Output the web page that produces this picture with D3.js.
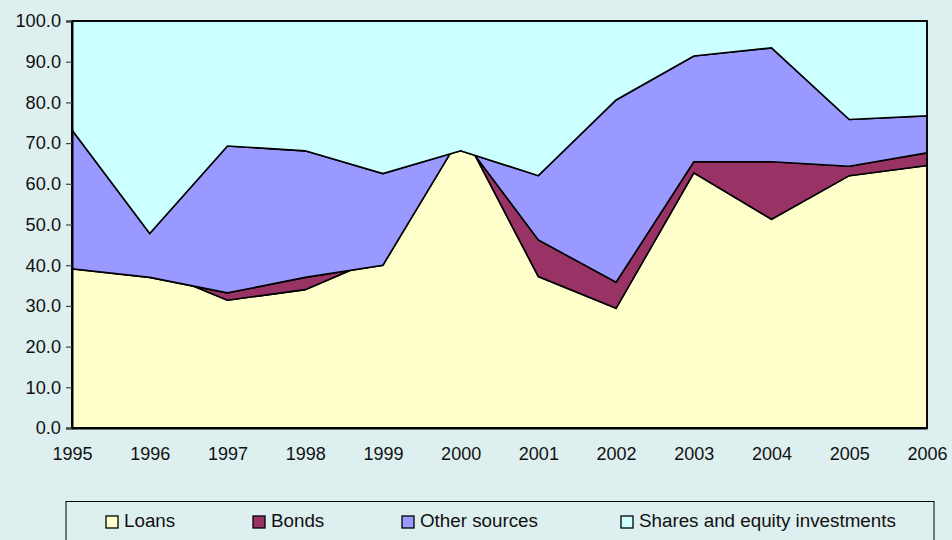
<!DOCTYPE html>
<html>
<head>
<meta charset="utf-8">
<script src="https://cdn.jsdelivr.net/npm/d3@7/dist/d3.min.js"></script>
<style>
  html, body { margin: 0; padding: 0; background: #DDEFEF; }
  svg { display: block; }
  text { font-family: "Liberation Sans", Arial, sans-serif; fill: #111; }
</style>
</head>
<body>
<svg id="chart" width="952" height="540"></svg>
<script>
// ---- data ----
const years = ["1995","1996","1997","1998","1999","2000","2001","2002","2003","2004","2005","2006"];
const loans  = [39.1, 39.3, 31.4, 34.0, 42.2, 73.8, 37.2, 29.4, 62.7, 51.3, 62.0, 64.5];
const bonds  = [ 0.0, -2.3,  1.8,  3.0, -2.2, -2.1,  9.0,  6.4,  2.7, 14.1,  2.3,  3.1];
const other  = [34.1, 10.8, 36.1, 31.1, 22.5, -3.6, 15.8, 44.8, 26.0, 28.0, 11.5,  9.1];
const shares = [26.8, 52.2, 30.7, 31.9, 37.5, 31.9, 38.0, 19.4,  8.6,  6.6, 24.2, 23.3];
const seriesNames = ["Loans", "Bonds", "Other sources", "Shares and equity investments"];
const seriesColors = ["#FFFFCC", "#993366", "#9999FF", "#CCFFFF"];
const yTicks = [0, 10, 20, 30, 40, 50, 60, 70, 80, 90, 100];

// ---- layout ----
const svg = d3.select("#chart");
const L = 72, R = 927, T = 21, B = 428;

const x = d3.scalePoint().domain(years).range([L, R]);
const y = d3.scaleLinear().domain([0, 100]).range([B, T]);

const table = years.map((yr, i) => ({
  year: yr, s0: loans[i], s1: bonds[i], s2: other[i], s3: shares[i]
}));
const keys = ["s0", "s1", "s2", "s3"];
const stacked = d3.stack().keys(keys).offset(d3.stackOffsetNone)(table);

const area = d3.area()
  .x(d => x(d.data.year))
  .y0(d => y(d[0]))
  .y1(d => y(d[1]));

const g = svg.append("g");
stacked.forEach((s, i) => {
  g.append("path")
    .datum(s)
    .attr("d", area)
    .attr("fill", seriesColors[i])
    .attr("stroke", "#000")
    .attr("stroke-width", 1.6)
    .attr("stroke-linejoin", "miter");
});

// plot frame
svg.append("rect")
  .attr("x", L).attr("y", T)
  .attr("width", R - L).attr("height", B - T)
  .attr("fill", "none")
  .attr("stroke", "#000")
  .attr("stroke-width", 1.6);

// y axis
const yAxis = d3.axisLeft(y).tickValues(yTicks).tickFormat(d3.format(".1f")).tickSize(6).tickPadding(5);
const ya = svg.append("g").attr("transform", `translate(${L},0)`).call(yAxis);
ya.select(".domain").attr("stroke", "#000").attr("stroke-width", 2);
ya.selectAll(".tick line").attr("stroke", "#444").attr("stroke-width", 1.2);
ya.selectAll(".tick text").attr("font-size", 18.2).attr("font-family", "Liberation Sans, Arial, sans-serif").attr("fill", "#111");

// x axis
const xAxis = d3.axisBottom(x).tickSize(0).tickPadding(19);
const xa = svg.append("g").attr("transform", `translate(0,${B})`).call(xAxis);
xa.select(".domain").attr("stroke", "#000").attr("stroke-width", 2);
xa.selectAll(".tick text").attr("font-size", 18).attr("font-family", "Liberation Sans, Arial, sans-serif").attr("fill", "#111");

// legend
svg.append("rect")
  .attr("x", 66).attr("y", 501.5)
  .attr("width", 868).attr("height", 60)
  .attr("fill", "none")
  .attr("stroke", "#000")
  .attr("stroke-width", 1);

const legendX = [106, 253, 402, 621];
const lg = svg.append("g");
seriesNames.forEach((name, i) => {
  lg.append("rect")
    .attr("x", legendX[i]).attr("y", 516)
    .attr("width", 12).attr("height", 12)
    .attr("fill", seriesColors[i])
    .attr("stroke", "#000")
    .attr("stroke-width", 1.3);
  lg.append("text")
    .attr("x", legendX[i] + 18).attr("y", 526.5)
    .attr("font-size", 18.8)
    .text(name);
});
</script>
</body>
</html>
